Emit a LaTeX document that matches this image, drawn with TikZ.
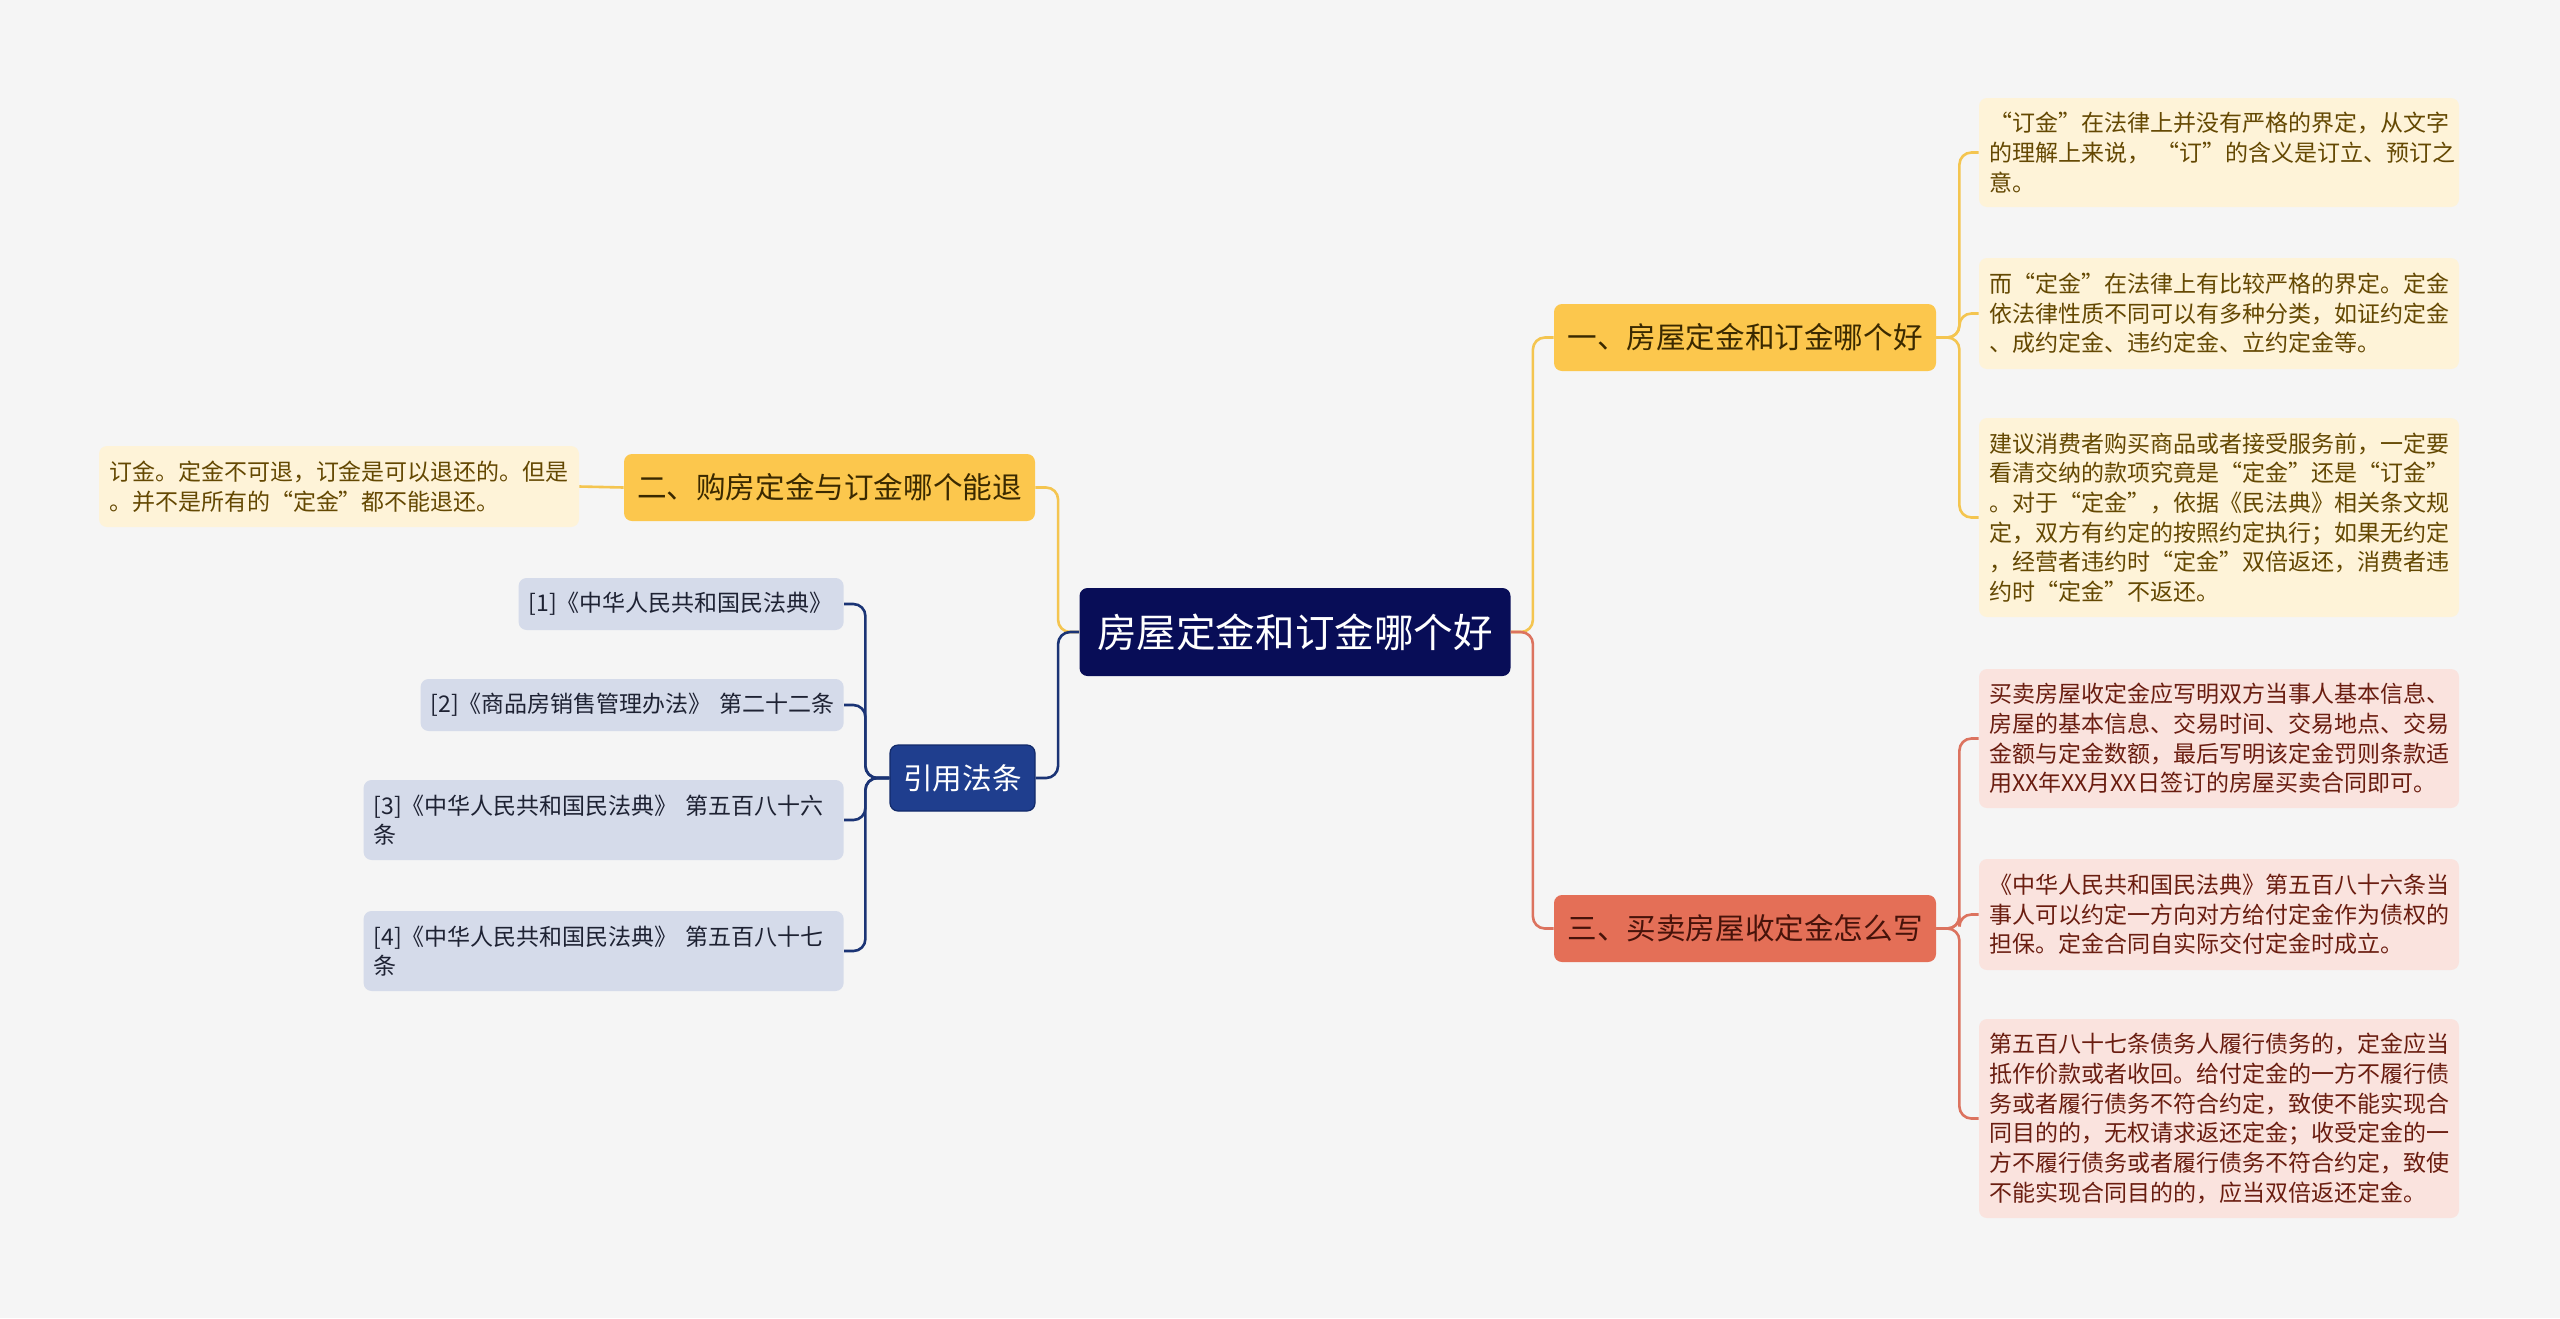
\documentclass[tikz,border=0pt]{standalone}
\usepackage{fontspec}
\setmainfont{Noto Sans CJK SC}
\usetikzlibrary{positioning}
\definecolor{bgcol}{HTML}{F5F5F5}
\definecolor{rootfill}{HTML}{080D57}
\definecolor{yfill}{HTML}{FCC74D}
\definecolor{ytext}{HTML}{3A2900}
\definecolor{yleaf}{HTML}{FEF3D8}
\definecolor{yleaftext}{HTML}{644802}
\definecolor{yline}{HTML}{F4C550}
\definecolor{rfill}{HTML}{E46F57}
\definecolor{rtext}{HTML}{47130A}
\definecolor{rleaf}{HTML}{FAE3DE}
\definecolor{rleaftext}{HTML}{6A1D10}
\definecolor{rline}{HTML}{DC735F}
\definecolor{bfill}{HTML}{1F3E8E}
\definecolor{bborder}{HTML}{122A6A}
\definecolor{bleaf}{HTML}{D5DBEA}
\definecolor{bleaftext}{HTML}{1E2233}
\definecolor{bline}{HTML}{1B3475}
\tikzset{
  rootnode/.style={fill=rootfill, text=white, font=\fontsize{19.8pt}{24pt}\selectfont,
    minimum width=215.5pt, minimum height=44pt, inner sep=0pt, rounded corners=4pt},
  topic/.style={font=\fontsize{14.8pt}{18pt}\selectfont, minimum height=33.5pt,
    inner sep=0pt, rounded corners=4pt},
  topicy/.style={topic, fill=yfill, text=ytext},
  topicr/.style={topic, fill=rfill, text=rtext},
  topicb/.style={topic, fill=bfill, draw=bborder, line width=0.6pt, text=white},
  leaf/.style={font=\fontsize{11.5pt}{14.85pt}\selectfont, align=left,
    inner xsep=5pt, inner ysep=0pt, rounded corners=4pt},
  leafy/.style={leaf, fill=yleaf, text=yleaftext, text width=230pt},
  leafr/.style={leaf, fill=rleaf, text=rleaftext, text width=230pt},
  leafb/.style={leaf, fill=bleaf, text=bleaftext, anchor=east},
  link/.style={line width=1.3pt, rounded corners=6pt},
  linky/.style={link, draw=yline},
  linkr/.style={link, draw=rline},
  linkb/.style={link, draw=bline}
}
\begin{document}
\begin{tikzpicture}[x=0.5pt, y=-0.5pt]
\fill[bgcol] (0,0) rectangle (2560,1318);
\useasboundingbox (0,0) rectangle (2560,1318);

\node (root) [rootnode] at (1295,632) {房屋定金和订金哪个好};

\node (b1) [topicy, minimum width=191pt] at (1745,337.5) {一、房屋定金和订金哪个好};
\node (b3) [topicr, minimum width=191pt] at (1745,928.5) {三、买卖房屋收定金怎么写};
\node (b2) [topicy, minimum width=205.5pt] at (829.5,487.5) {二、购房定金与订金哪个能退};
\node (law) [topicb, minimum width=72.5pt, minimum height=33pt] at (962.5,778) {引用法条};

\node (y1) [leafy, minimum height=54.5pt] at (2219,152.5)
  {“订金”在法律上并没有严格的界定，从文字\\的理解上来说，\kern0.3em“订”的含义是订立、预订之\\意。};
\node (y2) [leafy, minimum height=55.5pt] at (2219,313.5)
  {而“定金”在法律上有比较严格的界定。定金\\依法律性质不同可以有多种分类，如证约定金\\、成约定金、违约定金、立约定金等。};
\node (y3) [leafy, minimum height=99.5pt] at (2219,517.5)
  {建议消费者购买商品或者接受服务前，一定要\\看清交纳的款项究竟是“定金”还是“订金”\\。对于“定金”，依据《民法典》相关条文规\\定，双方有约定的按照约定执行；如果无约定\\，经营者违约时“定金”双倍返还，消费者违\\约时“定金”不返还。};

\node (r1) [leafr, minimum height=69.5pt] at (2219,738.5)
  {买卖房屋收定金应写明双方当事人基本信息、\\房屋的基本信息、交易时间、交易地点、交易\\金额与定金数额，最后写明该定金罚则条款适\\用XX年XX月XX日签订的房屋买卖合同即可。};
\node (r2) [leafr, minimum height=55.5pt] at (2219,914.5)
  {《中华人民共和国民法典》第五百八十六条当\\事人可以约定一方向对方给付定金作为债权的\\担保。定金合同自实际交付定金时成立。};
\node (r3) [leafr, minimum height=99.5pt] at (2219,1118.5)
  {第五百八十七条债务人履行债务的，定金应当\\抵作价款或者收回。给付定金的一方不履行债\\务或者履行债务不符合约定，致使不能实现合\\同目的的，无权请求返还定金；收受定金的一\\方不履行债务或者履行债务不符合约定，致使\\不能实现合同目的的，应当双倍返还定金。};

\node (l1) [leafy, minimum height=40.5pt] at (339,486.5)
  {订金。定金不可退，订金是可以退还的。但是\\。并不是所有的“定金”都不能退还。};

\node (c1) [leafb, text width=152.5pt, minimum height=26pt] at (844,604) {{}[1]《中华人民共和国民法典》};
\node (c2) [leafb, text width=201.5pt, minimum height=26pt] at (844,705) {{}[2]《商品房销售管理办法》~第二十二条};
\node (c3) [leafb, text width=230pt, minimum height=40pt] at (844,820) {{}[3]《中华人民共和国民法典》~第五百八十六\\条};
\node (c4) [leafb, text width=230pt, minimum height=40pt] at (844,951) {{}[4]《中华人民共和国民法典》~第五百八十七\\条};

\draw[linky] (root.east) -- ++(22,0) |- (b1.west);
\draw[linkr] (root.east) -- ++(22,0) |- (b3.west);
\draw[linky] (root.west) -- ++(-21,0) |- (b2.east);
\draw[linkb] (root.west) -- ++(-21,0) |- (law.east);
\draw[linky] (b2.west) -- (l1.east);
\foreach \n in {y1,y2,y3}
  \draw[linky] (b1.east) -- ++(23,0) |- (\n.west);
\foreach \n in {r1,r2,r3}
  \draw[linkr] (b3.east) -- ++(23,0) |- (\n.west);
\foreach \n in {c1,c2,c3,c4}
  \draw[linkb] (law.west) -- ++(-24,0) |- (\n.east);
\end{tikzpicture}
\end{document}
